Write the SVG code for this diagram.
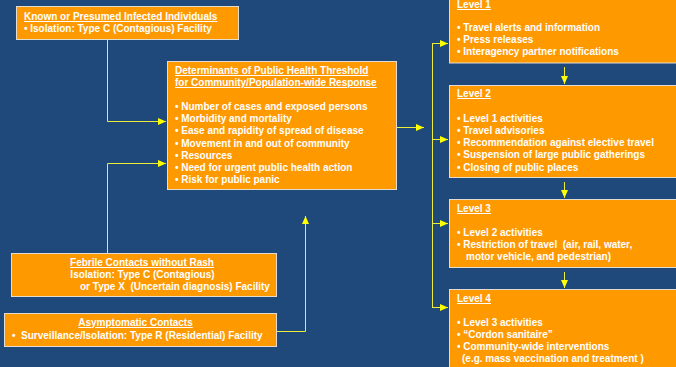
<svg xmlns="http://www.w3.org/2000/svg" width="676" height="367" viewBox="0 0 676 367">
<style>
.box{fill:#FF9900;stroke:#E2DCD2;stroke-width:1}
text{font-family:"Liberation Sans",Arial,sans-serif;font-weight:bold;font-size:10px;fill:#FFFFFF}
.u{text-decoration:underline}
.c{text-anchor:middle}
.ln{fill:none;stroke:#EEEE3A;stroke-width:1}
</style>
<defs>
<marker id="ah" viewBox="0 0 8 8" refX="8" refY="4" markerWidth="8" markerHeight="8" markerUnits="userSpaceOnUse" orient="auto">
<path d="M0,0.5 L8,4 L0,7.5 Z" fill="#FFFF00"/>
</marker>
</defs>
<rect width="676" height="367" fill="#1F487B"/>
<g id="connectors">
<path class="ln" d="M107.5,40 V121.5 H166" marker-end="url(#ah)"/>
<path class="ln" d="M107.5,253 V163.5 H166" marker-end="url(#ah)"/>
<path class="ln" d="M276,331.5 H305.5 V216" marker-end="url(#ah)"/>
<path class="ln" d="M396,127.5 H424" marker-end="url(#ah)"/>
<path class="ln" d="M432.5,43 V307"/>
<path class="ln" d="M432,43.5 H448" marker-end="url(#ah)"/>
<path class="ln" d="M432,139.5 H448" marker-end="url(#ah)"/>
<path class="ln" d="M432,223.5 H448" marker-end="url(#ah)"/>
<path class="ln" d="M432,307.5 H448" marker-end="url(#ah)"/>
<path class="ln" d="M564.5,67 V84" marker-end="url(#ah)"/>
<path class="ln" d="M564.5,182 V198" marker-end="url(#ah)"/>
<path class="ln" d="M564.5,272 V288" marker-end="url(#ah)"/>
</g>
<g id="known">
<rect class="box" x="16.5" y="6.5" width="222" height="33"/>
<text x="24" y="20" class="u">Known or Presumed Infected Individuals</text>
<text x="24" y="32">• Isolation: Type C (Contagious) Facility</text>
</g>
<g id="determinants">
<rect class="box" x="167.5" y="61.5" width="229" height="128"/>
<text x="175" y="74" class="u">Determinants of Public Health Threshold</text>
<text x="175" y="86" class="u">for Community/Population-wide Response</text>
<text x="175" y="110">• Number of cases and exposed persons</text>
<text x="175" y="122">• Morbidity and mortality</text>
<text x="175" y="134">• Ease and rapidity of spread of disease</text>
<text x="175" y="147">• Movement in and out of community</text>
<text x="175" y="159">• Resources</text>
<text x="175" y="171">• Need for urgent public health action</text>
<text x="175" y="183">• Risk for public panic</text>
</g>
<g id="febrile">
<rect class="box" x="11.5" y="253.5" width="265" height="43"/>
<text x="142" y="266" class="c u">Febrile Contacts without Rash</text>
<text x="142.5" y="278" class="c">Isolation: Type C (Contagious)</text>
<text x="80" y="290" xml:space="preserve">or Type X  (Uncertain diagnosis) Facility</text>
</g>
<g id="asymptomatic">
<rect class="box" x="4.5" y="313.5" width="272" height="33"/>
<text x="135.5" y="326" class="c u">Asymptomatic Contacts</text>
<text x="12" y="339" xml:space="preserve">•  Surveillance/Isolation: Type R (Residential) Facility</text>
</g>
<g id="level1">
<rect class="box" x="449.5" y="-3.5" width="240" height="66.5"/>
<text x="457" y="8" class="u">Level 1</text>
<text x="457" y="31">• Travel alerts and information</text>
<text x="457" y="43">• Press releases</text>
<text x="457" y="55">• Interagency partner notifications</text>
</g>
<g id="level2">
<rect class="box" x="449.5" y="85.5" width="240" height="92"/>
<text x="457" y="97" class="u">Level 2</text>
<text x="457" y="122">• Level 1 activities</text>
<text x="457" y="134">• Travel advisories</text>
<text x="457" y="146">• Recommendation against elective travel</text>
<text x="457" y="158">• Suspension of large public gatherings</text>
<text x="457" y="171">• Closing of public places</text>
</g>
<g id="level3">
<rect class="box" x="449.5" y="199.5" width="240" height="68"/>
<text x="457" y="212" class="u">Level 3</text>
<text x="457" y="236">• Level 2 activities</text>
<text x="457" y="248" xml:space="preserve">• Restriction of travel  (air, rail, water,</text>
<text x="466" y="260">motor vehicle, and pedestrian)</text>
</g>
<g id="level4">
<rect class="box" x="449.5" y="289.5" width="240" height="90"/>
<text x="457" y="302" class="u">Level 4</text>
<text x="457" y="326">• Level 3 activities</text>
<text x="457" y="338">• “Cordon sanitaire”</text>
<text x="457" y="350">• Community-wide interventions</text>
<text x="462" y="362">(e.g. mass vaccination and treatment )</text>
</g>
</svg>
